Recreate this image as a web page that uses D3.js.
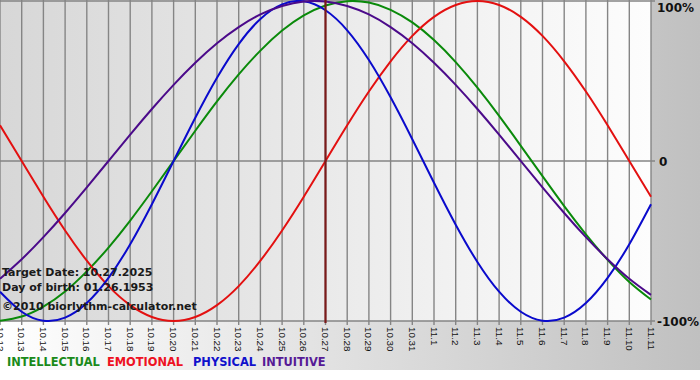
<!doctype html>
<html lang="">
<head>
    <meta charset="utf-8">
    <title>Biorhythm</title>
    <style type="text/css">
        body { margin: 0; background: #fff; }
        svg { display: block; }
        .info { font-family: "DejaVu Sans", Verdana, sans-serif; font-size: 11px; font-weight: bold; fill: #1a1a1a; }
        .tick-label { font-family: "Liberation Sans", Arial, sans-serif; font-size: 9.8px; fill: #111; }
        .y-label { font-family: "DejaVu Sans", Verdana, sans-serif; font-size: 12px; font-weight: bold; fill: #111; }
        .legend { font-family: "DejaVu Sans", Verdana, sans-serif; font-size: 11.4px; font-weight: bold; }
    </style>
</head>
<body>
    <script src="https://cdnjs.cloudflare.com/ajax/libs/d3/7.8.5/d3.min.js"></script>
    <div id="chart"></div>
    <script>
        // day labels along the bottom (10.12 -> 11.11)
        var days = ["10.12", "10.13", "10.14", "10.15", "10.16", "10.17", "10.18", "10.19", "10.20", "10.21",
            "10.22", "10.23", "10.24", "10.25", "10.26", "10.27", "10.28", "10.29", "10.30", "10.31",
            "11.1", "11.2", "11.3", "11.4", "11.5", "11.6", "11.7", "11.8", "11.9", "11.10", "11.11"]

        // values, one per day, -1..1
        var intellectual = [-0.999, -0.972, -0.910, -0.815, -0.690, -0.541, -0.372, -0.189, 0.000, 0.189,
            0.372, 0.541, 0.690, 0.815, 0.910, 0.972, 0.999, 0.990, 0.945, 0.866,
            0.756, 0.618, 0.458, 0.282, 0.095, -0.095, -0.282, -0.458, -0.618, -0.756, -0.866]
        var emotional = [0.223, 0.000, -0.223, -0.434, -0.623, -0.782, -0.901, -0.975, -1.000, -0.975,
            -0.901, -0.782, -0.623, -0.434, -0.223, 0.000, 0.223, 0.434, 0.623, 0.782,
            0.901, 0.975, 1.000, 0.975, 0.901, 0.782, 0.623, 0.434, 0.223, 0.000, -0.223]
        var physical = [-0.817, -0.942, -0.998, -0.979, -0.888, -0.731, -0.520, -0.270, 0.000, 0.270,
            0.520, 0.731, 0.888, 0.979, 0.998, 0.942, 0.817, 0.631, 0.398, 0.136,
            -0.136, -0.398, -0.631, -0.817, -0.942, -0.998, -0.979, -0.888, -0.731, -0.520, -0.270]
        var intuitive = [-0.736, -0.614, -0.476, -0.325, -0.165, 0.000, 0.165, 0.325, 0.476, 0.614,
            0.736, 0.837, 0.916, 0.969, 0.997, 0.997, 0.969, 0.916, 0.837, 0.736,
            0.614, 0.476, 0.325, 0.165, 0.000, -0.165, -0.325, -0.476, -0.614, -0.736, -0.837]

        var yTicks = [1, 0, -1]
        var yTickLabels = ["100%", "0", "-100%"]
        var targetIndex = 15   // 10.27

        var seriesNames = ["INTELLECTUAL", "EMOTIONAL", "PHYSICAL", "INTUITIVE"]
        var seriesData = [intellectual, emotional, physical, intuitive]

        var width = 700
        var height = 380
        var plotW = 651
        var plotH = 321

        var lineColors = ["#0a8a0a", "#e31010", "#0a0acc", "#4b0a8a"]
        var legendColors = ["#1a8a1a", "#ee1122", "#1111cc", "#561a96"]
        var legendX = [7, 107, 193, 262]

        var svg = d3.select("#chart").append("svg")
            .attr("width", width)
            .attr("height", height)

        var defs = svg.append("defs")
        var outerGrad = defs.append("linearGradient").attr("id", "outerGrad")
        outerGrad.append("stop").attr("offset", "0%").attr("stop-color", "#ffffff")
        outerGrad.append("stop").attr("offset", "100%").attr("stop-color", "#c0c0c0")
        var plotGrad = defs.append("linearGradient").attr("id", "plotGrad")
        plotGrad.append("stop").attr("offset", "0%").attr("stop-color", "#d7d7d7")
        plotGrad.append("stop").attr("offset", "100%").attr("stop-color", "#fdfdfd")

        // backgrounds
        svg.append("rect").attr("width", width).attr("height", 370).attr("fill", "url(#outerGrad)")
        svg.append("rect").attr("x", 0).attr("y", 0).attr("width", plotW).attr("height", plotH)
            .attr("fill", "url(#plotGrad)")

        var x = d3.scaleLinear().domain([0, days.length - 1]).range([0, plotW])
        var y = d3.scaleLinear().domain([-1, 1]).range([plotH, 1])

        // vertical grid + ticks below axis
        var grid = svg.append("g")
        grid.selectAll("line.v")
            .data(days)
            .enter()
            .append("line")
            .attr("x1", function (d, i) { return x(i) })
            .attr("x2", function (d, i) { return x(i) })
            .attr("y1", 0)
            .attr("y2", plotH + 4)
            .attr("stroke", "#858585")
            .attr("stroke-width", 1.4)

        // horizontal lines at 100%, 0, -100% with small ticks on the right
        grid.selectAll("line.h")
            .data(yTicks)
            .enter()
            .append("line")
            .attr("x1", 0)
            .attr("x2", plotW + 4)
            .attr("y1", function (d) { return Math.round(y(d)) })
            .attr("y2", function (d) { return Math.round(y(d)) })
            .attr("stroke", "#858585")
            .attr("stroke-width", 1.4)

        // curves
        var line = d3.line()
            .x(function (d, i) { return x(i) })
            .y(function (d) { return y(d) })
            .curve(d3.curveNatural)

        svg.append("g").selectAll("path")
            .data(seriesData)
            .enter()
            .append("path")
            .attr("d", line)
            .attr("fill", "none")
            .attr("stroke", function (d, i) { return lineColors[i] })
            .attr("stroke-width", 2)

        // target date marker
        svg.append("line")
            .attr("x1", x(targetIndex)).attr("x2", x(targetIndex))
            .attr("y1", 0).attr("y2", plotH + 2)
            .attr("stroke", "#7a1a1a")
            .attr("stroke-width", 2.2)

        // day labels, rotated
        svg.append("g").selectAll("text")
            .data(days)
            .enter()
            .append("text")
            .attr("class", "tick-label")
            .attr("transform", function (d, i) { return "translate(" + x(i) + "," + (plotH + 6) + ") rotate(90)" })
            .attr("dy", "0.35em")
            .text(function (d) { return d })

        // percent labels on the right
        svg.append("g").selectAll("text")
            .data(yTicks)
            .enter()
            .append("text")
            .attr("class", "y-label")
            .attr("x", function (d) { return d === 0 ? 659 : 657 })
            .attr("y", function (d) { return Math.max(y(d), 7) + 1 })
            .attr("dy", "0.36em")
            .text(function (d, i) { return yTickLabels[i] })

        // info text over the plot
        var info = ["Target Date: 10.27.2025", "Day of birth: 01.26.1953", "\u00a92010 biorlythm-calculator.net"]
        var infoY = [276, 291, 310]
        svg.append("g").selectAll("text")
            .data(info)
            .enter()
            .append("text")
            .attr("class", "info")
            .attr("x", 2)
            .attr("y", function (d, i) { return infoY[i] })
            .text(function (d) { return d })

        // legend
        svg.append("g").selectAll("text")
            .data(seriesNames)
            .enter()
            .append("text")
            .attr("class", "legend")
            .attr("x", function (d, i) { return legendX[i] })
            .attr("y", 366)
            .attr("fill", function (d, i) { return legendColors[i] })
            .text(function (d) { return d })
    </script>
</body>
</html>
